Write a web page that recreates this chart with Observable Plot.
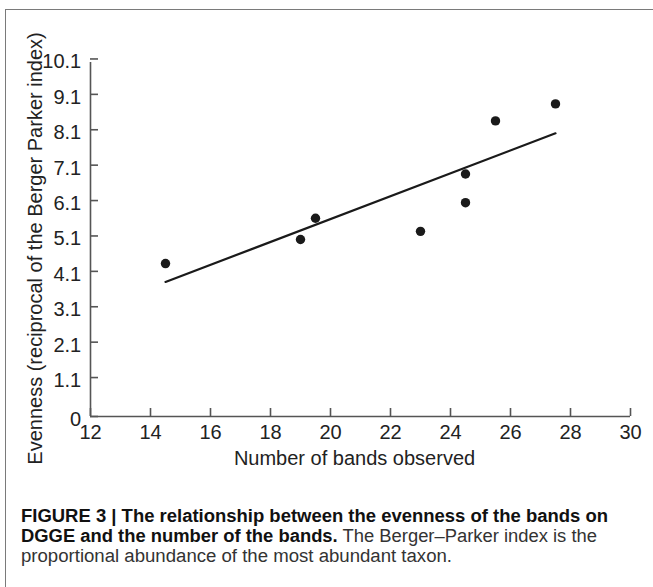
<!DOCTYPE html>
<html><head><meta charset="utf-8">
<script src="https://cdn.jsdelivr.net/npm/d3@7"></script>
<script src="https://cdn.jsdelivr.net/npm/@observablehq/plot@0.6"></script>
<style>
html,body{margin:0;padding:0;background:#fff;}
body{width:653px;height:587px;overflow:hidden;position:relative;font-family:"Liberation Sans",Arial,Helvetica,sans-serif;}
#frame{position:absolute;left:5px;top:9px;width:700px;height:640px;border-left:1.5px solid #7a7a7a;border-top:1.5px solid #7a7a7a;box-sizing:border-box;pointer-events:none}
#chart{position:absolute;left:0;top:0}
#caption{position:absolute;left:21px;top:505.5px;font-size:18px;line-height:20px;color:#1a1a1a;font-family:"Liberation Sans",Arial,sans-serif}
.cl{white-space:nowrap;transform-origin:0 0;width:max-content;height:20px}
.cl b{font-weight:bold;color:#111}
.cl span{color:#333}
</style></head>
<body>
<div id="frame"></div>
<div id="chart"></div>
<div id="caption"></div>
<script>
// Data
const bands = [14.5, 19, 19.5, 23, 24.5, 24.5, 25.5, 27.5];
const evenness = [4.42, 5.1, 5.7, 5.33, 6.95, 6.14, 8.45, 8.93];
const fitBands = [14.5, 27.5];
const fitEvenness = [3.9, 8.1];
const xTicks = [12, 14, 16, 18, 20, 22, 24, 26, 28, 30];
const yTicks = [0, 1.1, 2.1, 3.1, 4.1, 5.1, 6.1, 7.1, 8.1, 9.1, 10.1];
const xTitle = "Number of bands observed";
const yTitle = "Evenness (reciprocal of the Berger Parker index)";
const captionLines = [
  [["b", "FIGURE 3 | The relationship between the evenness of the bands on"]],
  [["b", "DGGE and the number of the bands."], ["r", " The Berger–Parker index is the"]],
  [["r", "proportional abundance of the most abundant taxon."]]
];
const captionWidths = [587, 576, 431];

const points = bands.map((b, i) => ({bands: b, evenness: evenness[i]}));
const fit = fitBands.map((b, i) => ({bands: b, evenness: fitEvenness[i]}));

const W = 653, H = 480, mT = 62, mB = 64, mL = 90, mR = 23;
const axisColor = "#555";
const textColor = "#222";
const font = "'Liberation Sans', Arial, Helvetica, sans-serif";

// The printed y axis has evenly spaced ticks labelled 0, 1.1, 2.1 … 10.1
const yPosition = v => v < 1.1 ? v / 1.1 : v - 0.1;

const chart = Plot.plot({
  width: W, height: H,
  marginTop: mT, marginBottom: mB, marginLeft: mL, marginRight: mR,
  style: {fontFamily: font, fontSize: "20px", background: "transparent", color: textColor},
  x: {domain: [12, 30]},
  y: {domain: [0, 10], transform: yPosition},
  marks: [
    Plot.ruleX([12], {stroke: axisColor, strokeWidth: 1.6}),
    Plot.ruleY([0], {stroke: axisColor, strokeWidth: 1.6}),
    Plot.axisX({ticks: xTicks, tickSize: -8, tickFormat: () => "", stroke: axisColor, strokeWidth: 1.6, label: null}),
    Plot.axisX({ticks: xTicks, tickSize: 0, tickPadding: 8.3, fill: textColor, fontSize: 20, label: null}),
    Plot.axisY({ticks: yTicks, tickSize: -8, tickFormat: () => "", stroke: axisColor, strokeWidth: 1.6, label: null}),
    Plot.axisY({ticks: yTicks, tickSize: 0, tickPadding: 9.3, dy: 3, fill: textColor, fontSize: 20, label: null,
      tickFormat: d => d === 0 ? "0" : d.toFixed(1)}),
    Plot.line(fit, {x: "bands", y: "evenness", stroke: "#1a1a1a", strokeWidth: 2.2}),
    Plot.dot(points, {x: "bands", y: "evenness", r: 4.7, fill: "#1a1a1a", stroke: "none"}),
    Plot.text([xTitle], {text: d => d, frameAnchor: "bottom", lineAnchor: "middle", textAnchor: "middle", dy: 41.6, dx: -6, fontSize: 20, fill: textColor}),
    Plot.text([yTitle], {text: d => d, frameAnchor: "left", textAnchor: "middle", lineAnchor: "middle", rotate: -90, dx: -54.8, dy: 9, fontSize: 20, fill: textColor})
  ]
});
document.getElementById("chart").appendChild(chart);

const cap = document.getElementById("caption");
captionLines.forEach((parts, i) => {
  const div = document.createElement("div");
  div.className = "cl";
  parts.forEach(([kind, txt]) => {
    const el = document.createElement(kind === "b" ? "b" : "span");
    el.textContent = txt;
    div.appendChild(el);
  });
  cap.appendChild(div);
  const w = div.getBoundingClientRect().width;
  div.style.transform = `scaleX(${captionWidths[i] / w})`;
});
</script>
</body></html>
